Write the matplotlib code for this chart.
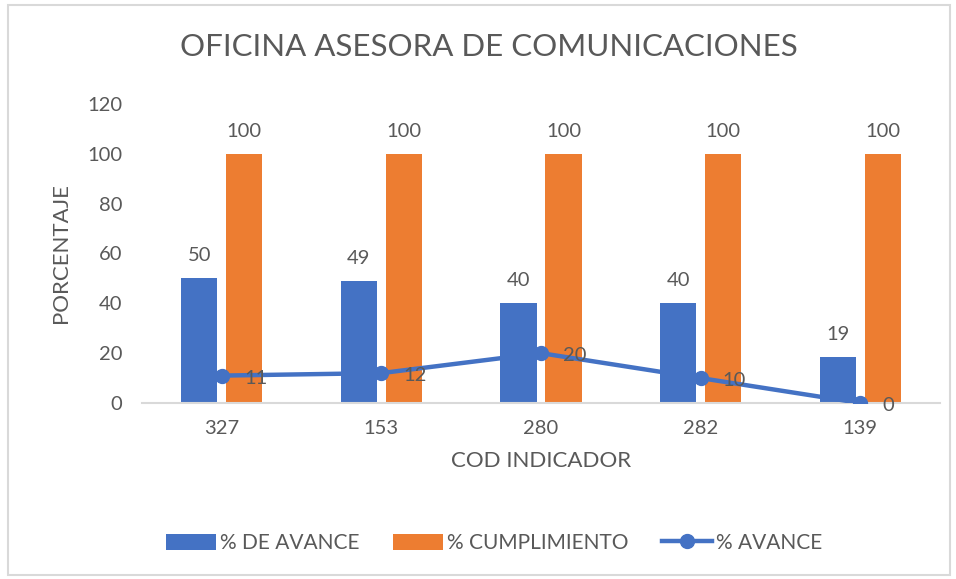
import numpy as np
import matplotlib
matplotlib.use('Agg')
import matplotlib.pyplot as plt
from matplotlib.patches import Rectangle

plt.rcParams['font.family'] = ['Lato', 'DejaVu Sans']

codes = ['327', '153', '280', '282', '139']
avance_bar = [50.2, 49.1, 40.3, 40.2, 18.6]
cumplimiento = [100, 100, 100, 100, 100]
avance_line = [11, 12, 20, 10, 0]

BLUE = '#4472C4'
ORANGE = '#ED7D31'
GRAY = '#595959'

fig = plt.figure(figsize=(9.56, 5.79), dpi=100)
ax = fig.add_axes([142 / 956, 1 - 403 / 579, 798 / 956, 299 / 579])
fig.patches.append(Rectangle((8 / 956, 4 / 579), 942 / 956, 570 / 579,
                             transform=fig.transFigure, fill=False,
                             edgecolor='#D9D9D9', linewidth=1.5))

x = np.arange(len(codes))
w = 0.226
off = 0.141
b1 = ax.bar(x - off, avance_bar, w, color=BLUE, label='% DE AVANCE')
b2 = ax.bar(x + off, cumplimiento, w, color=ORANGE, label='% CUMPLIMIENTO')
ln, = ax.plot(x, avance_line, color=BLUE, linewidth=3.2, marker='o',
              markersize=10, label='% AVANCE', zorder=3)

for xi, v in zip(x, avance_bar):
    ax.annotate(f'{v:.0f}', (xi - off, v), xytext=(0, 10), textcoords='offset points',
                ha='center', va='bottom', fontsize=14.5, color=GRAY)
for xi, v in zip(x, cumplimiento):
    ax.annotate(f'{v:.0f}', (xi + off, v), xytext=(0, 10), textcoords='offset points',
                ha='center', va='bottom', fontsize=14.5, color=GRAY)
for xi, v in zip(x, avance_line):
    ax.annotate(f'{v}', (xi, v), xytext=(16, -2), textcoords='offset points',
                ha='left', va='center', fontsize=14.5, color=GRAY, zorder=4)

ax.set_xlim(-0.5, len(codes) - 0.5)
ax.set_ylim(0, 120)
ax.set_yticks(range(0, 121, 20))
ax.set_xticks(x)
ax.set_xticklabels(codes)
ax.tick_params(axis='both', length=0, labelsize=14.5, labelcolor=GRAY, pad=12)
ax.tick_params(axis='y', pad=14)
for s in ['top', 'right', 'left']:
    ax.spines[s].set_visible(False)
ax.spines['bottom'].set_color('#D9D9D9')
ax.spines['bottom'].set_linewidth(1.5)

fig.text(489 / 956, 1 - 47 / 579, 'OFICINA ASESORA DE COMUNICACIONES',
         fontsize=22.5, color=GRAY, ha='center', va='center')
ax.set_xlabel('COD INDICADOR', fontsize=16, color=GRAY, labelpad=10)
ax.set_ylabel('PORCENTAJE', fontsize=16, color=GRAY, labelpad=12)

fig.legend(handles=[b1, b2, ln], loc='center', bbox_to_anchor=(494 / 956, 1 - 543 / 579),
           ncol=3, frameon=False, fontsize=15, labelcolor=GRAY,
           handlelength=2.4, handleheight=0.8, handletextpad=0.2, columnspacing=1.6)

plt.savefig('out.png', dpi=100)
